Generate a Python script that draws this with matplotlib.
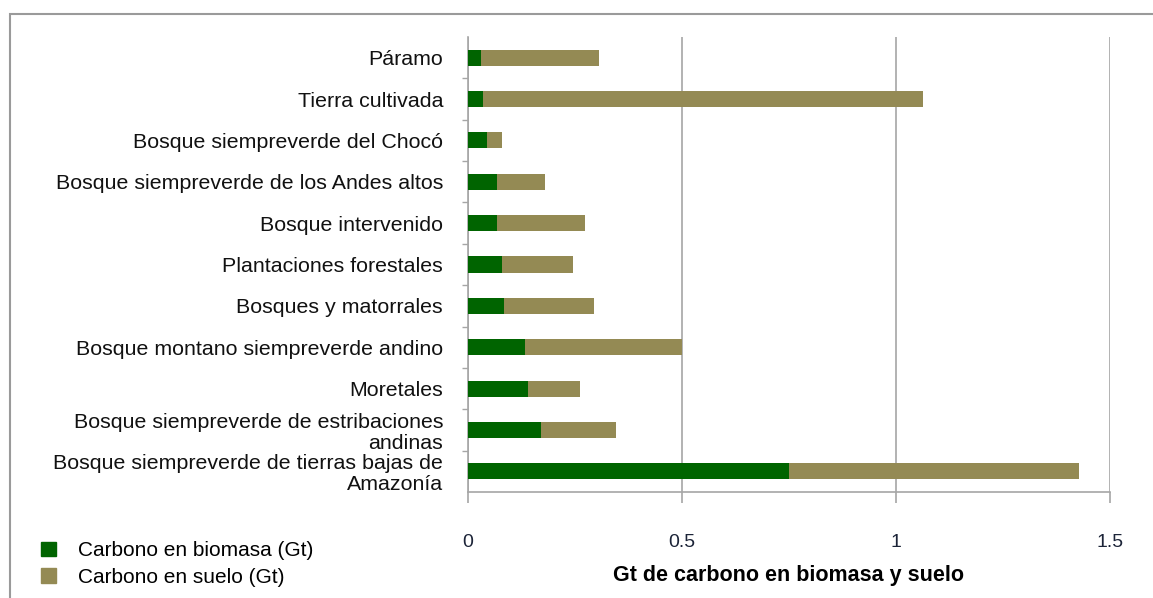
import matplotlib.pyplot as plt
from matplotlib.patches import Rectangle, Patch

plt.rcParams['font.family'] = ['Liberation Sans', 'DejaVu Sans']

# categories, top to bottom as shown
categorias = [
    'Páramo',
    'Tierra cultivada',
    'Bosque siempreverde del Chocó',
    'Bosque siempreverde de los Andes altos',
    'Bosque intervenido',
    'Plantaciones forestales',
    'Bosques y matorrales',
    'Bosque montano siempreverde andino',
    'Moretales',
    'Bosque siempreverde de estribaciones\nandinas',
    'Bosque siempreverde de tierras bajas de\nAmazonía',
]
biomasa = [0.030, 0.035, 0.044, 0.068, 0.068, 0.079, 0.084, 0.133, 0.140, 0.171, 0.750]
total = [0.306, 1.063, 0.079, 0.180, 0.273, 0.245, 0.294, 0.500, 0.262, 0.346, 1.428]
suelo = [t - b for t, b in zip(total, biomasa)]

xticks = [0, 0.5, 1, 1.5]
xticklabels = ['0', '0.5', '1', '1.5']

verde = '#006400'
oliva = '#948A54'
gris = '#a6a6a6'

W, H = 1153, 598
fig = plt.figure(figsize=(W / 100, H / 100), dpi=100)

# outer border of the chart area
fig.add_artist(Rectangle((10 / W, -0.1), 1.2, (H - 14) / H + 0.1,
                         transform=fig.transFigure, fill=False,
                         edgecolor='#9a9a9a', linewidth=1.5))

ax = fig.add_axes([468 / W, 106 / H, (1110 - 468) / W, (492 - 37) / H])

pos = list(range(len(categorias)))
ax.barh(pos, biomasa, height=0.39, color=verde, zorder=3)
ax.barh(pos, suelo, left=biomasa, height=0.39, color=oliva, zorder=3)

ax.set_ylim(len(categorias) - 0.5, -0.5)
ax.set_xlim(0, 1.5)

ax.set_yticks(pos)
ax.set_yticklabels(categorias, fontsize=15.4, color='#111111', linespacing=1.12)
ax.set_yticks([p + 0.5 for p in pos[:-1]], minor=True)
ax.tick_params(axis='y', which='major', length=0, pad=18)
ax.tick_params(axis='y', which='minor', length=4, color=gris, width=1)

ax.set_xticks(xticks)
ax.set_xticklabels(xticklabels, fontsize=14, color='#1c2438')
ax.tick_params(axis='x', length=8, color=gris, width=1.2, pad=22)

ax.grid(axis='x', color=gris, linewidth=1.2, zorder=0)
ax.set_axisbelow(True)
for s in ['top', 'right']:
    ax.spines[s].set_visible(False)
for s in ['left', 'bottom']:
    ax.spines[s].set_color(gris)
    ax.spines[s].set_linewidth(1.2)

ax.set_xlabel('Gt de carbono en biomasa y suelo', fontsize=15.5,
              fontweight='bold', labelpad=10)

handles = [Patch(color=verde, label='Carbono en biomasa (Gt)'),
           Patch(color=oliva, label='Carbono en suelo (Gt)')]
fig.legend(handles=handles, loc='center left',
           bbox_to_anchor=(41 / W, (H - 564) / H), frameon=False,
           fontsize=15, handlelength=0.7, handleheight=0.7,
           handletextpad=1.1, labelspacing=0.35,
           borderpad=0, borderaxespad=0)

fig.savefig('out.png', dpi=100)
